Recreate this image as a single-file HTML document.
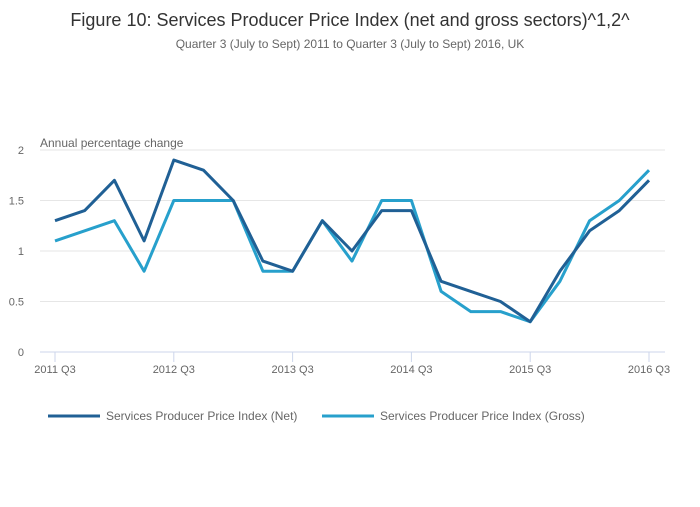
<!DOCTYPE html>
<html><head><meta charset="utf-8"><style>
body{margin:0;background:#fff;width:700px;height:502px;overflow:hidden;font-family:"Liberation Sans",sans-serif}
</style></head><body>
<svg id="chart" width="700" height="502" xmlns="http://www.w3.org/2000/svg" font-family="Liberation Sans, sans-serif">
<text x="350" y="26" text-anchor="middle" font-size="18" fill="#333">Figure 10: Services Producer Price Index (net and gross sectors)^1,2^</text>
<text x="350" y="48" text-anchor="middle" font-size="12" fill="#666">Quarter 3 (July to Sept) 2011 to Quarter 3 (July to Sept) 2016, UK</text>
<text x="40" y="147" font-size="12" fill="#666">Annual percentage change</text>
<g id="grid"></g><g id="series"></g>
<g>
<line x1="48" y1="416" x2="100" y2="416" stroke="#206095" stroke-width="3"/>
<text x="106" y="420" font-size="12" fill="#666">Services Producer Price Index (Net)</text>
<line x1="322" y1="416" x2="374" y2="416" stroke="#27a0cc" stroke-width="3"/>
<text x="380" y="420" font-size="12" fill="#666">Services Producer Price Index (Gross)</text>
</g>
</svg>
<script>
const quarters=["2011 Q3","2011 Q4","2012 Q1","2012 Q2","2012 Q3","2012 Q4","2013 Q1","2013 Q2","2013 Q3","2013 Q4","2014 Q1","2014 Q2","2014 Q3","2014 Q4","2015 Q1","2015 Q2","2015 Q3","2015 Q4","2016 Q1","2016 Q2","2016 Q3"];
const netValues=[1.3,1.4,1.7,1.1,1.9,1.8,1.5,0.9,0.8,1.3,1.0,1.4,1.4,0.7,0.6,0.5,0.3,0.8,1.2,1.4,1.7];
const grossValues=[1.1,1.2,1.3,0.8,1.5,1.5,1.5,0.8,0.8,1.3,0.9,1.5,1.5,0.6,0.4,0.4,0.3,0.7,1.3,1.5,1.8];
const yTicks=[0,0.5,1,1.5,2];
const xTickLabels=["2011 Q3","2012 Q3","2013 Q3","2014 Q3","2015 Q3","2016 Q3"];
const NS="http://www.w3.org/2000/svg";
const x=i=>55+i*(649-55)/(quarters.length-1);
const y=v=>352-v*101;
const grid=document.getElementById('grid'),ser=document.getElementById('series');
function mk(tag,attrs,parent){const e=document.createElementNS(NS,tag);for(const k in attrs)e.setAttribute(k,attrs[k]);parent.appendChild(e);return e;}
yTicks.forEach(t=>{
  if(t>0){const l=mk('line',{x1:40,x2:665,y1:y(t),y2:y(t),stroke:'#e6e6e6'},grid);
  
  }
  const tx=mk('text',{x:24,y:y(t)+4,'font-size':11,fill:'#666','text-anchor':'end'},grid);tx.textContent=t;
  
  
});
const ax=mk('line',{x1:40,x2:665,y1:352,y2:352,stroke:'#ccd6eb'},grid);


xTickLabels.forEach(lab=>{
  const i=quarters.indexOf(lab);
  mk('line',{x1:x(i),x2:x(i),y1:352,y2:362,stroke:'#ccd6eb'},grid);
  const tx=mk('text',{x:x(i),y:373,'font-size':11,fill:'#666','text-anchor':'middle'},grid);tx.textContent=lab;
  
  
});
[[grossValues,'#27a0cc','line-gross'],[netValues,'#206095','line-net']].forEach(([vals,c,n])=>{
  const p=mk('polyline',{points:vals.map((v,i)=>x(i)+','+y(v)).join(' '),fill:'none',stroke:c,'stroke-width':3,'stroke-linejoin':'round'},ser);
  
  
});
</script>
</body></html>
